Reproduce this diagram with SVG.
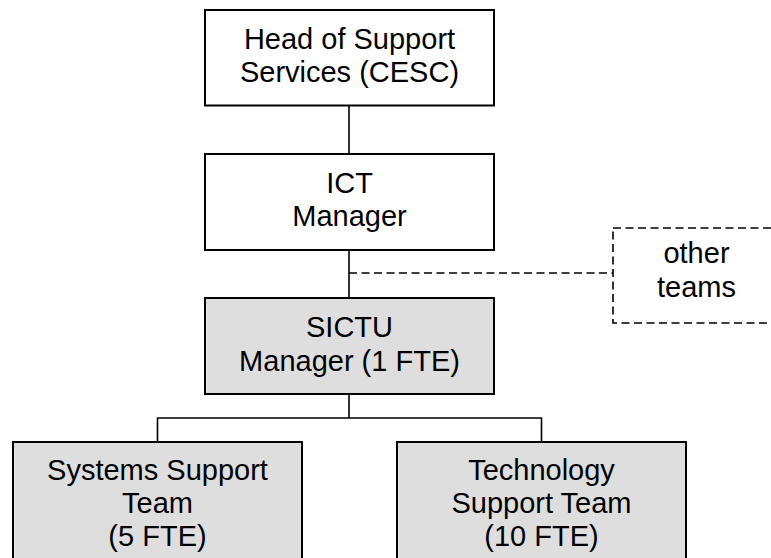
<svg xmlns="http://www.w3.org/2000/svg" width="771" height="558" viewBox="0 0 771 558">
  <style>
    .box { fill: #ffffff; stroke: #000000; stroke-width: 2; }
    .unit { fill: #dedede; stroke: #000000; stroke-width: 2; }
    .ext { fill: none; stroke: #000000; stroke-width: 1.6; stroke-dasharray: 8 4.5; }
    .link { fill: none; stroke: #000000; stroke-width: 1.6; }
    .dash { fill: none; stroke: #000000; stroke-width: 1.6; stroke-dasharray: 8 4.5; }
    text { font-family: "Liberation Sans", Arial, sans-serif; font-size: 29px; fill: #000000; text-anchor: middle; }
  </style>
  <rect width="771" height="558" fill="#ffffff"/>

  <!-- reporting lines -->
  <g id="connectors">
    <line class="link" x1="349" y1="105.5" x2="349" y2="154"/>
    <line class="link" x1="349" y1="250" x2="349" y2="298"/>
    <line class="dash" x1="349" y1="273" x2="613" y2="273"/>
    <path class="link" d="M349 394 V418 M157.5 442 V418 H541.5 V442"/>
  </g>

  <g id="head-support">
    <rect class="box" x="205" y="10" width="289" height="95.5"/>
    <text x="349.5" y="49">Head of Support</text>
    <text x="349.5" y="82">Services (CESC)</text>
  </g>

  <g id="ict-manager">
    <rect class="box" x="205" y="154" width="289" height="96"/>
    <text x="349.5" y="193">ICT</text>
    <text x="349.5" y="226">Manager</text>
  </g>

  <g id="other-teams">
    <rect class="ext" x="613" y="228" width="167" height="95"/>
    <text x="696.5" y="263">other</text>
    <text x="696.5" y="297">teams</text>
  </g>

  <g id="sictu-manager">
    <rect class="unit" x="205" y="298" width="289" height="96"/>
    <text x="349.5" y="337">SICTU</text>
    <text x="349.5" y="371">Manager (1 FTE)</text>
  </g>

  <g id="systems-support">
    <rect class="unit" x="13" y="442" width="289" height="130"/>
    <text x="157.5" y="480">Systems Support</text>
    <text x="157.5" y="513">Team</text>
    <text x="157.5" y="546">(5 FTE)</text>
  </g>

  <g id="technology-support">
    <rect class="unit" x="397" y="442" width="289" height="130"/>
    <text x="541.5" y="480">Technology</text>
    <text x="541.5" y="513">Support Team</text>
    <text x="541.5" y="546">(10 FTE)</text>
  </g>
</svg>
